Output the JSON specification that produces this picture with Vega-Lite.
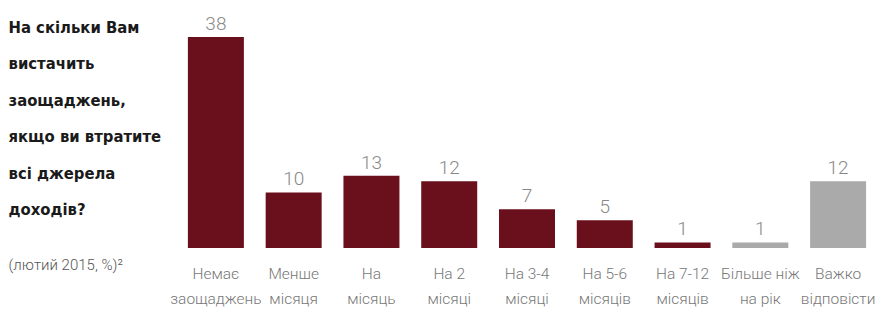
{
  "$schema": "https://vega.github.io/schema/vega-lite/v6.json",
  "width": 700,
  "height": 211,
  "autosize": {"type": "none"},
  "padding": {"left": 177, "top": 37, "right": 0, "bottom": 61},
  "background": "white",
  "config": {"view": {"stroke": null}},
  "data": {
    "values": [
      {"cat": "Немає|заощаджень", "value": 38, "group": "a"},
      {"cat": "Менше|місяця", "value": 10, "group": "a"},
      {"cat": "На|місяць", "value": 13, "group": "a"},
      {"cat": "На 2|місяці", "value": 12, "group": "a"},
      {"cat": "На 3-4|місяці", "value": 7, "group": "a"},
      {"cat": "На 5-6|місяців", "value": 5, "group": "a"},
      {"cat": "На 7-12|місяців", "value": 1, "group": "a"},
      {"cat": "Більше ніж|на рік", "value": 1, "group": "b"},
      {"cat": "Важко|відповісти", "value": 12, "group": "b"}
    ]
  },
  "encoding": {
    "x": {
      "field": "cat",
      "type": "nominal",
      "sort": null,
      "scale": {"paddingInner": 0.28, "paddingOuter": 0.14},
      "axis": {
        "labelAngle": 0,
        "labelExpr": "split(datum.value, '|')",
        "labelFont": "Roboto",
        "labelFontWeight": 300,
        "labelFontSize": 15.5,
        "labelColor": "#777777",
        "labelLineHeight": 25,
        "labelPadding": 18,
        "labelBaseline": "top",
        "labelLimit": 200,
        "ticks": false,
        "domain": false,
        "title": "(лютий 2015, %)²",
        "titleX": -169,
        "titleY": 21,
        "titleAngle": 0,
        "titleAlign": "left",
        "titleAnchor": null,
        "titleBaseline": "alphabetic",
        "titleFont": "Roboto",
        "titleFontSize": 15,
        "titleFontWeight": 300,
        "titleColor": "#555555"
      }
    },
    "y": {
      "field": "value",
      "type": "quantitative",
      "scale": {"domain": [0, 38], "nice": false},
      "axis": {
        "labels": false,
        "ticks": false,
        "domain": false,
        "grid": false,
        "title": ["На скільки Вам", "вистачить", "заощаджень,", "якщо ви втратите", "всі джерела", "доходів?"],
        "titleX": -169,
        "titleY": -5,
        "titleAngle": 0,
        "titleAlign": "left",
        "titleAnchor": null,
        "titleBaseline": "alphabetic",
        "titleFont": "DejaVu Sans Condensed",
        "titleFontSize": 16.5,
        "titleFontWeight": "bold",
        "titleColor": "#1a1a1a",
        "titleLineHeight": 36.5
      }
    }
  },
  "layer": [
    {
      "mark": {"type": "bar"},
      "encoding": {
        "color": {
          "field": "group",
          "type": "nominal",
          "scale": {"domain": ["a", "b"], "range": ["#6a101c", "#aaaaaa"]},
          "legend": null
        }
      }
    },
    {
      "mark": {
        "type": "text",
        "dy": -7,
        "baseline": "alphabetic",
        "align": "center",
        "font": "Roboto",
        "fontWeight": 300,
        "fontSize": 19,
        "color": "#888888"
      },
      "encoding": {"text": {"field": "value", "type": "quantitative"}}
    }
  ]
}
